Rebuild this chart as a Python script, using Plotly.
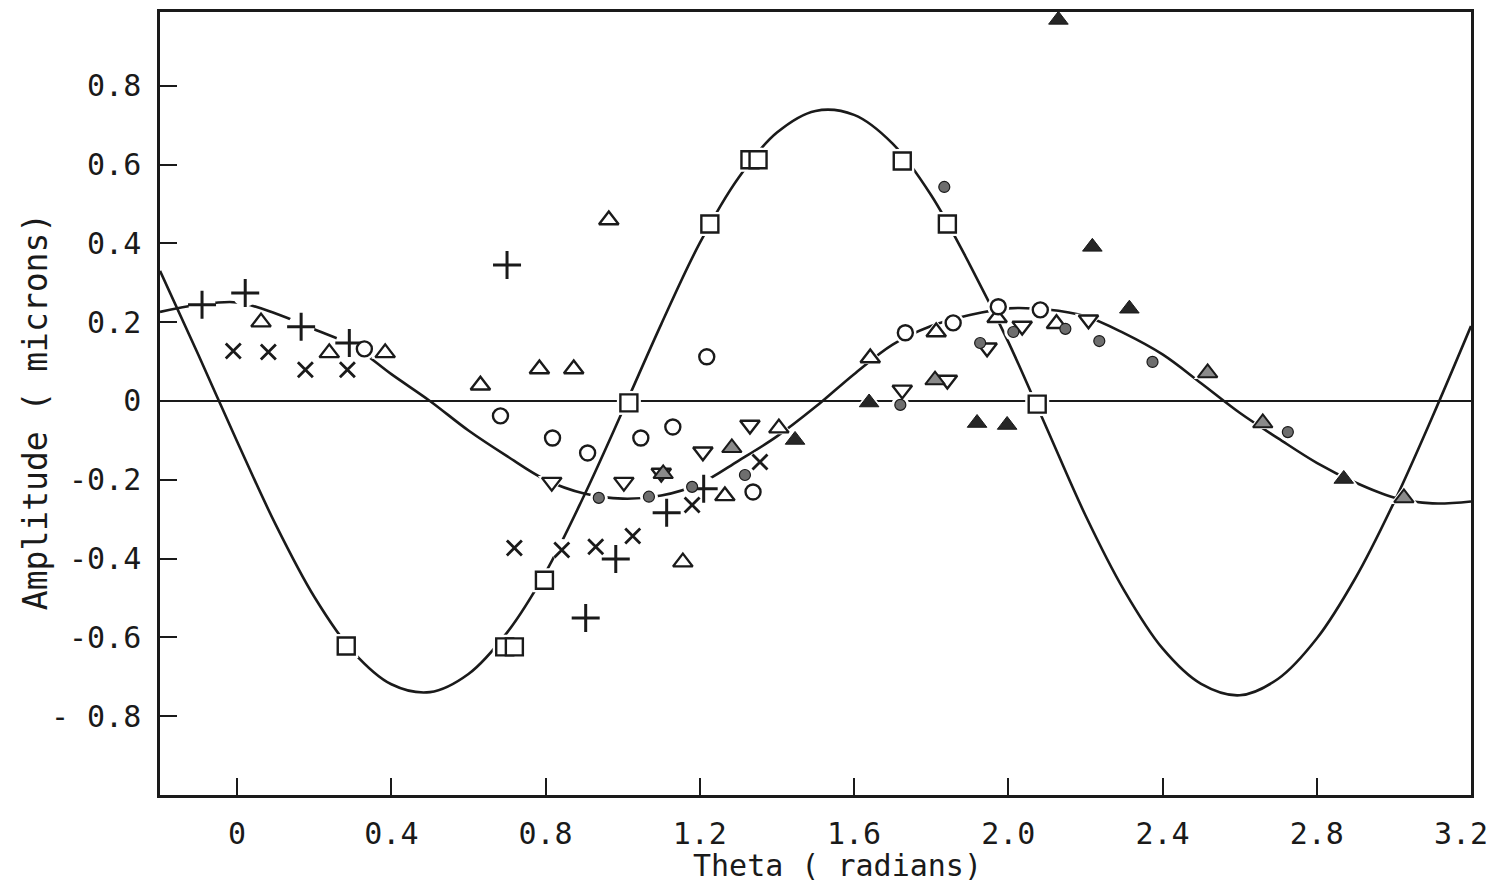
import plotly.graph_objects as go

# ---- data ----
curve_big_x = [-0.2, -0.1, 0.0, 0.1, 0.2, 0.3, 0.4, 0.5, 0.6, 0.7, 0.8, 0.9, 1.0, 1.1, 1.2, 1.3, 1.4,
               1.5, 1.6, 1.7, 1.8, 1.9, 2.0, 2.1, 2.2, 2.3, 2.4, 2.5, 2.6, 2.7, 2.8, 2.9, 3.0, 3.1, 3.2]
curve_big_y = [0.330, 0.116, -0.103, -0.314, -0.497, -0.636, -0.719, -0.739, -0.693, -0.588, -0.435,
               -0.240, -0.025, 0.195, 0.401, 0.566, 0.681, 0.736, 0.726, 0.653, 0.522, 0.346, 0.150,
               -0.070, -0.290, -0.480, -0.628, -0.718, -0.747, -0.705, -0.603, -0.450, -0.258, -0.040, 0.190]

curve_small_x = [-0.2, -0.1, 0.0, 0.1, 0.2, 0.3, 0.4, 0.5, 0.6, 0.7, 0.8, 0.9, 1.0, 1.1, 1.2, 1.3, 1.4,
                 1.5, 1.6, 1.7, 1.8, 1.9, 2.0, 2.1, 2.2, 2.3, 2.4, 2.5, 2.6, 2.7, 2.8, 2.9, 3.0, 3.1, 3.2]
curve_small_y = [0.226, 0.244, 0.250, 0.222, 0.182, 0.140, 0.068, 0.000, -0.075, -0.140, -0.200,
                 -0.235, -0.248, -0.240, -0.210, -0.152, -0.090, -0.015, 0.068, 0.143, 0.190, 0.218,
                 0.235, 0.232, 0.215, 0.172, 0.118, 0.045, -0.030, -0.095, -0.157, -0.207, -0.245,
                 -0.260, -0.255]

plus_x = [-0.091, 0.021, 0.166, 0.291, 0.700, 0.904, 0.982, 1.114, 1.210]
plus_y = [0.244, 0.274, 0.188, 0.147, 0.345, -0.551, -0.401, -0.284, -0.223]

cross_x = [-0.010, 0.081, 0.177, 0.286, 0.719, 0.842, 0.930, 1.026, 1.180, 1.356]
cross_y = [0.127, 0.124, 0.079, 0.079, -0.373, -0.378, -0.370, -0.343, -0.264, -0.155]

triup_x = [0.062, 0.239, 0.384, 0.631, 0.784, 0.873, 0.964, 1.156, 1.265, 1.405, 1.642, 1.813, 1.971, 2.125]
triup_y = [0.200, 0.122, 0.122, 0.040, 0.081, 0.081, 0.459, -0.409, -0.241, -0.069, 0.109, 0.175, 0.211, 0.196]

tridown_x = [0.816, 1.003, 1.100, 1.208, 1.330, 1.725, 1.842, 1.945, 2.036, 2.208]
tridown_y = [-0.206, -0.206, -0.183, -0.129, -0.061, 0.028, 0.053, 0.135, 0.190, 0.206]

circle_x = [0.330, 0.683, 0.818, 0.909, 1.047, 1.130, 1.218, 1.338, 1.733, 1.857, 1.974, 2.083]
circle_y = [0.132, -0.038, -0.094, -0.132, -0.094, -0.066, 0.112, -0.231, 0.173, 0.198, 0.239, 0.231]

dot_x = [0.938, 1.068, 1.180, 1.317, 1.720, 1.834, 1.927, 2.013, 2.148, 2.236, 2.374, 2.725]
dot_y = [-0.246, -0.243, -0.218, -0.188, -0.010, 0.543, 0.147, 0.175, 0.183, 0.152, 0.099, -0.079]

trifill_x = [1.447, 1.639, 1.919, 1.997, 2.130, 2.218, 2.314, 2.870]
trifill_y = [-0.099, -0.004, -0.056, -0.061, 0.967, 0.391, 0.234, -0.198]

trihatch_x = [1.105, 1.283, 1.810, 2.517, 2.660, 3.026]
trihatch_y = [-0.185, -0.119, 0.053, 0.071, -0.056, -0.246]

square_x = [0.283, 0.694, 0.719, 0.797, 1.016, 1.226, 1.330, 1.351, 1.725, 1.842, 2.075]
square_y = [-0.622, -0.624, -0.624, -0.455, -0.005, 0.449, 0.612, 0.612, 0.609, 0.449, -0.008]

y_tickvals = [0.8, 0.6, 0.4, 0.2, 0, -0.2, -0.4, -0.6, -0.8]
y_ticktext = ["0.8", "0.6", "0.4", "0.2", "0", "-0.2", "-0.4", "-0.6", "- 0.8"]
x_tickvals = [0, 0.4, 0.8, 1.2, 1.6, 2.0, 2.4, 2.8, 3.2]
x_ticktext = ["0", "0.4", "0.8", "1.2", "1.6", "2.0", "2.4", "2.8", "3.2"]

INK = "#1a1a1a"
FONT = "DejaVu Sans Mono"

fig = go.Figure()

fig.add_trace(go.Scatter(x=curve_big_x, y=curve_big_y, mode="lines", line=dict(color=INK, width=2.6, shape="spline"),
                         hoverinfo="skip"))
fig.add_trace(go.Scatter(x=curve_small_x, y=curve_small_y, mode="lines", line=dict(color=INK, width=2.6, shape="spline"),
                         hoverinfo="skip"))

# (xs, ys, symbol, size, fill, outline width)
marker_sets = [
    (square_x, square_y, "square", 17, "white", 2.4),
    (plus_x, plus_y, "cross-thin", 20, INK, 3.0),
    (cross_x, cross_y, "x-thin", 15, INK, 2.8),
    (triup_x, triup_y, "triangle-up", 17, "white", 2.4),
    (tridown_x, tridown_y, "triangle-down", 17, "white", 2.4),
    (circle_x, circle_y, "circle", 15, "white", 2.4),
    (dot_x, dot_y, "circle", 11, "#6e6e6e", 1.2),
    (trifill_x, trifill_y, "triangle-up", 17, "#262626", 1.0),
    (trihatch_x, trihatch_y, "triangle-up", 17, "#8a8a8a", 2.0),
]

# white halos: the original plot breaks its lines around each symbol
for xs, ys, sym, size, fill, lw in marker_sets:
    halo_sym = "circle" if sym in ("cross-thin", "x-thin") else sym
    fig.add_trace(go.Scatter(x=xs, y=ys, mode="markers", hoverinfo="skip",
                             marker=dict(symbol=halo_sym, size=size + 7, color="white",
                                         line=dict(width=0))))

for xs, ys, sym, size, fill, lw in marker_sets:
    fig.add_trace(go.Scatter(x=xs, y=ys, mode="markers",
                             marker=dict(symbol=sym, size=size, color=fill,
                                         line=dict(color=INK, width=lw))))

axis_common = dict(showline=True, linecolor=INK, linewidth=2.5, mirror=True, ticks="inside",
                   tickcolor=INK, tickwidth=2, ticklen=17, showgrid=False,
                   automargin=False, tickfont=dict(family=FONT, size=30, color=INK))

# the last x label sits at the right edge; it is drawn as an annotation nudged left (as in the original)
x_ticktext_axis = x_ticktext[:-1] + [""]

fig.update_layout(
    width=1490, height=876,
    margin=dict(l=152, r=27, t=4, b=89),
    paper_bgcolor="white", plot_bgcolor="white",
    showlegend=False,
    xaxis=dict(range=[-0.2, 3.2], tickvals=x_tickvals, ticktext=x_ticktext_axis,
               zeroline=False, ticklabelstandoff=10, **axis_common),
    yaxis=dict(range=[-1.0, 0.987], tickvals=y_tickvals, ticktext=y_ticktext,
               zeroline=True, zerolinecolor=INK, zerolinewidth=2, ticklabelstandoff=10,
               **axis_common),
    annotations=[
        dict(text=x_ticktext[-1], xref="x", yref="paper", x=x_tickvals[-1], y=0,
             xanchor="center", yanchor="top", xshift=-10, yshift=-19, showarrow=False,
             font=dict(family=FONT, size=30, color=INK)),
        dict(text="Theta ( radians)", xref="paper", yref="paper", x=0.517, y=-0.0905,
             xanchor="center", yanchor="middle", showarrow=False,
             font=dict(family=FONT, size=30, color=INK)),
        dict(text="Amplitude ( microns)", xref="paper", yref="paper", x=-0.0953, y=0.489,
             xanchor="center", yanchor="middle", showarrow=False, textangle=-90,
             font=dict(family=FONT, size=33, color=INK)),
    ],
)

fig.write_html("out.html")
